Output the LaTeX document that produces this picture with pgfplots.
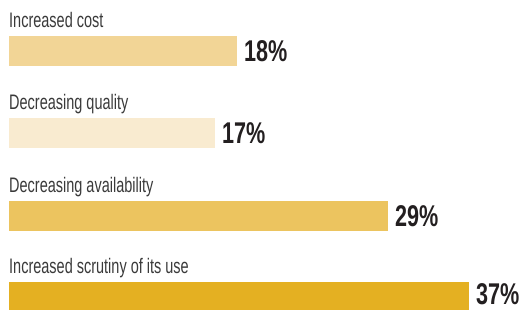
\documentclass[border=0pt]{standalone}
\usepackage{pgfplots}
\pgfplotsset{compat=1.18}
\usepackage{pgfplotstable}
\usepackage{fontspec}
\setmainfont{Liberation Sans}
\definecolor{c1}{HTML}{F2D596}
\definecolor{c2}{HTML}{F9EBD0}
\definecolor{c3}{HTML}{ECC45F}
\definecolor{c4}{HTML}{E4B022}
\definecolor{labtxt}{HTML}{3A3A3A}
\definecolor{valtxt}{HTML}{231F20}
\newcommand{\lab}[1]{\scalebox{0.69}[1]{\fontsize{21pt}{22pt}\selectfont #1}}
\newcommand{\val}[1]{\scalebox{0.72}[1]{\fontsize{30pt}{30pt}\selectfont\bfseries #1}}
\begin{document}
\begin{tikzpicture}
\begin{axis}[
  width=524pt, height=309pt, scale only axis,
  xmin=-0.724, xmax=41.43, ymin=0, ymax=309, y dir=reverse,
  axis line style={draw=none}, ticks=none,
  xbar, bar width=30pt, bar shift=0pt,
  nodes near coords={\val{\pgfplotspointmeta}},
  point meta=explicit symbolic,
  every node near coord/.append style={anchor=west, inner sep=0pt, xshift=7pt, text=valtxt},
]
\addplot[fill=c1, draw=none] table[meta=lab] {
x y lab
18.34 51 18\%
};
\addplot[fill=c2, draw=none] table[meta=lab] {
x y lab
16.57 133 17\%
};
\addplot[fill=c3, draw=none] table[meta=lab] {
x y lab
30.49 216 29\%
};
\addplot[fill=c4, draw=none, every node near coord/.append style={yshift=3pt}] table[meta=lab] {
x y lab
37.0 297 37\%
};
\node[anchor=base west, inner sep=0pt, text=labtxt] at (axis cs:0,27) {\lab{Increased cost}};
\node[anchor=base west, inner sep=0pt, text=labtxt] at (axis cs:0,109) {\lab{Decreasing quality}};
\node[anchor=base west, inner sep=0pt, text=labtxt] at (axis cs:0,192) {\lab{Decreasing availability}};
\node[anchor=base west, inner sep=0pt, text=labtxt] at (axis cs:0,273) {\lab{Increased scrutiny of its use}};
\end{axis}
\pgfresetboundingbox
\path (current axis.south west) rectangle (current axis.north east);
\end{tikzpicture}
\end{document}
